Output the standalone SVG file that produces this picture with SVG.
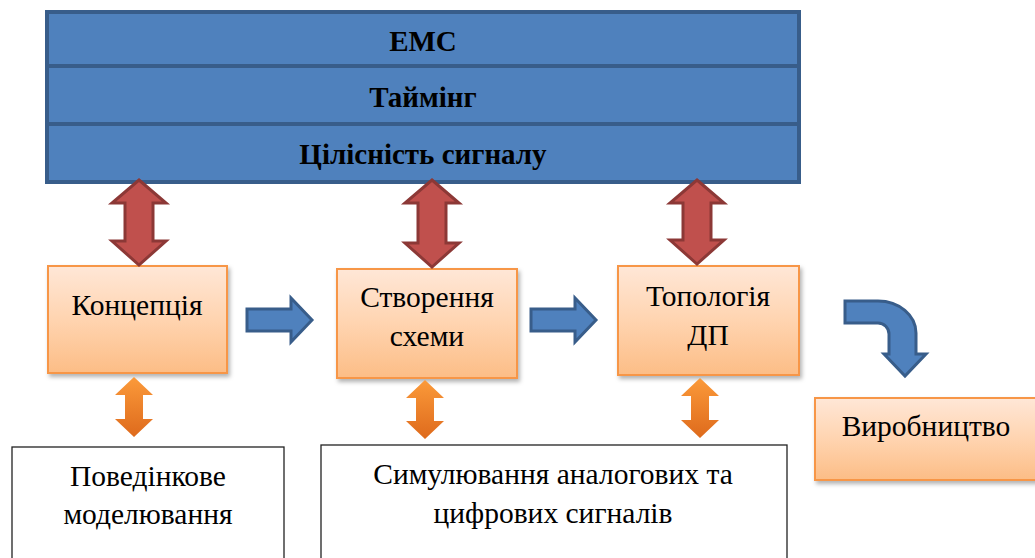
<svg xmlns="http://www.w3.org/2000/svg" width="1035" height="558" viewBox="0 0 1035 558" font-family="'Liberation Serif', 'Times New Roman', serif">
<defs>
<linearGradient id="gBox" x1="0" y1="0" x2="0" y2="1">
<stop offset="0" stop-color="#FFE7D7"/>
<stop offset="0.5" stop-color="#FFD4B0"/>
<stop offset="1" stop-color="#FCBD86"/>
</linearGradient>
<linearGradient id="gOr" x1="0" y1="0" x2="0" y2="1">
<stop offset="0" stop-color="#FB9A3A"/>
<stop offset="1" stop-color="#DE6A1C"/>
</linearGradient>
<filter id="sh" x="-10%" y="-10%" width="130%" height="130%">
<feDropShadow dx="2" dy="3" stdDeviation="2" flood-color="#000" flood-opacity="0.3"/>
</filter>
</defs>
<style>
.bar{fill:#4F81BD;stroke:#385D8A;stroke-width:4}
.bt{font-family:'Liberation Serif',serif;font-weight:bold;font-size:29px;fill:#000;text-anchor:middle}
.t{font-family:'Liberation Serif',serif;font-size:29.5px;fill:#000;text-anchor:middle}
.ob{fill:url(#gBox);stroke:#F79646;stroke-width:2;filter:url(#sh)}
.wb{fill:#fff;stroke:#222;stroke-width:1.3}
.red{fill:#C0504D;stroke:#8C3836;stroke-width:3;stroke-linejoin:miter}
.blue{fill:#4F81BD;stroke:#385D8A;stroke-width:3}
.or{fill:url(#gOr);stroke:none}
</style>

<g id="top-bars">
<rect class="bar" x="47" y="12" width="752" height="54"/>
<rect class="bar" x="47" y="66" width="752" height="58"/>
<rect class="bar" x="47" y="124" width="752" height="58"/>
<text class="bt" x="423" y="51">ЕМС</text>
<text class="bt" x="423" y="107">Таймінг</text>
<text class="bt" x="423" y="164">Цілісність сигналу</text>
</g>

<g id="n-koncepcia">
<rect class="ob" x="48" y="266" width="179" height="107"/>
<text class="t" x="137" y="315">Концепція</text>
</g>
<g id="n-stvorennia">
<rect class="ob" x="337" y="269" width="180" height="109"/>
<text class="t" x="427" y="307">Створення</text>
<text class="t" x="427" y="346">схеми</text>
</g>
<g id="n-topologia">
<rect class="ob" x="618" y="266" width="181" height="109"/>
<text class="t" x="708" y="306">Топологія</text>
<text class="t" x="708" y="345">ДП</text>
</g>
<g id="n-vyrobnytstvo">
<rect class="ob" x="815" y="398" width="225" height="82"/>
<text class="t" x="926" y="436">Виробництво</text>
</g>
<g id="n-povedinkove">
<rect class="wb" x="12" y="447" width="272" height="120"/>
<text class="t" x="148" y="486">Поведінкове</text>
<text class="t" x="148" y="524">моделювання</text>
</g>
<g id="n-symuliuvannia">
<rect class="wb" x="321" y="445" width="466" height="122"/>
<text class="t" x="553" y="484">Симулювання аналогових та</text>
<text class="t" x="553" y="523">цифрових сигналів</text>
</g>

<g id="connectors">
<path class="red" d="M139,180 L166,203 L153,203 L153,241 L166,241 L139,265 L112,241 L125,241 L125,203 L112,203 Z"/>
<path class="red" d="M432,180 L459,203 L446,203 L446,243 L459,243 L432,267 L405,243 L418,243 L418,203 L405,203 Z"/>
<path class="red" d="M697,180 L724,203 L711,203 L711,240 L724,240 L697,264 L670,240 L683,240 L683,203 L670,203 Z"/>
<path class="blue" d="M247,309 L291,309 L291,298 L312,320 L291,342 L291,331 L247,331 Z"/>
<path class="blue" d="M531,309 L575,309 L575,298 L596,320 L575,342 L575,331 L531,331 Z"/>
<path class="blue" d="M845,301 L878,301 A38,32 0 0 1 916,333 L916,354 L926,354 L905,376 L884,354 L889,354 L889,334 A11,11 0 0 0 878,323 L845,323 Z"/>
<path class="or" d="M134,377 L153,395 L143,395 L143,419 L153,419 L134,437 L115,419 L125,419 L125,395 L115,395 Z"/>
<path class="or" d="M425,380 L444,398 L434,398 L434,421 L444,421 L425,439 L406,421 L416,421 L416,398 L406,398 Z"/>
<path class="or" d="M700,378 L719,396 L709,396 L709,420 L719,420 L700,438 L681,420 L691,420 L691,396 L681,396 Z"/>
</g>
</svg>
